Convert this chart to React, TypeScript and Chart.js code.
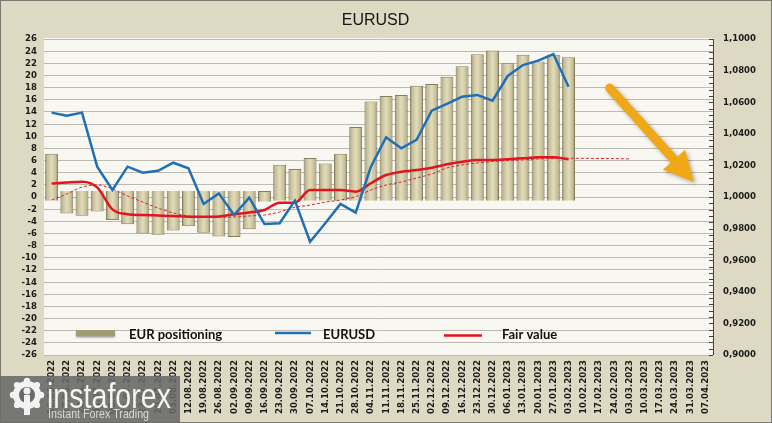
import React, { useEffect, useRef } from 'react';
import { Chart, registerables } from 'chart.js';

Chart.register(...registerables);

const categories = [
  '10.06.2022', '17.06.2022', '24.06.2022', '01.07.2022', '08.07.2022', '15.07.2022', '22.07.2022', '29.07.2022',
  '05.08.2022', '12.08.2022', '19.08.2022', '26.08.2022', '02.09.2022', '09.09.2022', '16.09.2022', '23.09.2022',
  '30.09.2022', '07.10.2022', '14.10.2022', '21.10.2022', '28.10.2022', '04.11.2022', '11.11.2022', '18.11.2022',
  '25.11.2022', '02.12.2022', '09.12.2022', '16.12.2022', '23.12.2022', '30.12.2022', '06.01.2023', '13.01.2023',
  '20.01.2023', '27.01.2023', '03.02.2023', '10.02.2023', '17.02.2023', '24.02.2023', '03.03.2023', '10.03.2023',
  '17.03.2023', '24.03.2023', '31.03.2023', '07.04.2023',
];

const eurPositioning = [
  7.1, -2.7, -3.1, -2.4, -3.8, -4.5, -6.0, -6.2, -5.5, -4.8, -5.9, -6.5, -6.6, -5.3, -0.8,
  5.3, 4.6, 6.4, 5.5, 7.1, 11.5, 15.7, 16.6, 16.8, 18.3, 18.6, 19.8, 21.5, 23.5, 24.1,
  22.0, 23.4, 22.3, 23.4, 23.0,
];

const eurusd = [
  1.0534, 1.0515, 1.0534, 1.0192, 1.0044, 1.0192, 1.0154, 1.0166, 1.0217, 1.0182, 0.9956, 1.0023,
  0.9886, 0.9996, 0.9829, 0.9834, 0.9977, 0.9717, 0.9834, 0.9956, 0.9901, 1.0192, 1.0378, 1.0308,
  1.0361, 1.0546, 1.0589, 1.0635, 1.0646, 1.0609, 1.0766, 1.0835, 1.0863, 1.0905, 1.0698,
];

const fairValue = [
  1.0085, 1.0092, 1.0097, 1.0061, 0.9922, 0.9891, 0.9886, 0.9883, 0.9880, 0.9875, 0.9875, 0.9877,
  0.9891, 0.9902, 0.9918, 0.9964, 0.9964, 1.0044, 1.0044, 1.0044, 1.0034, 1.0087, 1.0139, 1.0160,
  1.0171, 1.0185, 1.0207, 1.0223, 1.0234, 1.0234, 1.0239, 1.0245, 1.0251, 1.0251, 1.0239,
];

const fairTrend = [
  0.9981, 1.0019, 1.0063, 1.0076, 1.0051, 1.0006, 0.9968, 0.9930, 0.9899, 0.9880,
  0.9872, 0.9872, 0.9873, 0.9880, 0.9886, 0.9905, 0.9935, 0.9949, 0.9968, 0.9981,
  1.0002, 1.0044, 1.0076, 1.0095, 1.0120, 1.0146, 1.0184, 1.0203, 1.0215, 1.0225,
  1.0231, 1.0234, 1.0241, 1.0244, 1.0245, 1.0245, 1.0244, 1.0243, 1.0241,
];

const leftMin = -26;
const leftMax = 26;
const leftStep = 2;
const rightMin = 0.9;
const rightMax = 1.1;
const rightStep = 0.02;
const rightMinorStep = 0.004;

const legendLabels = ['EUR positioning', 'EURUSD', 'Fair value'];
const titleText = 'EURUSD';
const watermarkTitle = 'instaforex';
const watermarkSub = 'Instant Forex Trading';

const AXIS_FONT = '"DejaVu Sans Condensed", "DejaVu Sans", Verdana, sans-serif';
const BLUE = '#1f6fb6';
const RED = '#e3141b';

const pad = (a: any[], n: number) => a.concat(Array(Math.max(0, n - a.length)).fill(null));

const bgPlugin = {
  id: 'bgPlugin',
  beforeDraw(chart: any) {
    const { ctx, chartArea: a, width, height } = chart;
    ctx.save();
    ctx.fillStyle = '#ddd9c3';
    ctx.fillRect(0, 0, width, height);
    ctx.fillStyle = '#f8f7f2';
    ctx.fillRect(a.left, a.top - 1, a.right - a.left, a.bottom - a.top + 1);
    ctx.fillStyle = '#151515';
    ctx.font = '16px "Liberation Sans", Arial, sans-serif';
    ctx.textAlign = 'center';
    ctx.textBaseline = 'alphabetic';
    ctx.fillText(titleText, (a.left + a.right) / 2 - 3, 25);
    ctx.restore();
  },
  afterDraw(chart: any) {
    const { ctx, width, height } = chart;
    ctx.save();
    ctx.strokeStyle = '#7a7a70';
    ctx.lineWidth = 1;
    ctx.strokeRect(0.5, 0.5, width - 1, height - 1);
    ctx.restore();
  },
};

const minorTickPlugin = {
  id: 'minorTicks',
  afterDraw(chart: any) {
    const { ctx, chartArea: a } = chart;
    const s = chart.scales.y1;
    ctx.save();
    ctx.strokeStyle = '#5b3b2e';
    ctx.lineWidth = 1;
    const n = Math.round((rightMax - rightMin) / rightMinorStep);
    for (let k = 0; k <= n; k++) {
      const y = Math.round(s.getPixelForValue(rightMin + k * rightMinorStep)) + 0.5;
      ctx.beginPath();
      ctx.moveTo(a.right - 4, y);
      ctx.lineTo(a.right, y);
      ctx.stroke();
    }
    ctx.beginPath();
    ctx.moveTo(Math.round(a.right) + 0.5, a.top);
    ctx.lineTo(Math.round(a.right) + 0.5, a.bottom);
    ctx.stroke();
    ctx.restore();
  },
};

const arrowPlugin = {
  id: 'arrowPlugin',
  afterDatasetsDraw(chart: any) {
    const { ctx } = chart;
    const xs = chart.scales.x;
    const ys = chart.scales.y1;
    const x0 = xs.getPixelForValue(36.7);
    const y0 = ys.getPixelForValue(1.069);
    const x1 = xs.getPixelForValue(42.25);
    const y1 = ys.getPixelForValue(1.0095);
    const len = Math.hypot(x1 - x0, y1 - y0);
    const dx = (x1 - x0) / len;
    const dy = (y1 - y0) / len;
    const nx = -dy;
    const ny = dx;
    const headLen = 30;
    const headW = 15;
    ctx.save();
    ctx.shadowColor = 'rgba(0,0,0,0.3)';
    ctx.shadowBlur = 4;
    ctx.shadowOffsetX = 2;
    ctx.shadowOffsetY = 2;
    ctx.strokeStyle = '#f0a816';
    ctx.fillStyle = '#f0a816';
    ctx.lineWidth = 9;
    ctx.lineCap = 'round';
    ctx.beginPath();
    ctx.moveTo(x0, y0);
    ctx.lineTo(x1 - dx * headLen * 0.8, y1 - dy * headLen * 0.8);
    ctx.stroke();
    ctx.beginPath();
    ctx.moveTo(x1, y1);
    ctx.lineTo(x1 - dx * headLen + nx * headW, y1 - dy * headLen + ny * headW);
    ctx.lineTo(x1 - dx * headLen - nx * headW, y1 - dy * headLen - ny * headW);
    ctx.closePath();
    ctx.fill();
    ctx.restore();
  },
};

const legendPlugin = {
  id: 'customLegend',
  afterDatasetsDraw(chart: any) {
    const { ctx, chartArea: a } = chart;
    const y = chart.scales.y.getPixelForValue(-22.4);
    const L = a.left;
    ctx.save();
    ctx.shadowColor = 'rgba(0,0,0,0.35)';
    ctx.shadowBlur = 2;
    ctx.shadowOffsetY = 1.5;
    ctx.fillStyle = '#a29c70';
    ctx.fillRect(L + 32, y - 3, 39, 6);
    ctx.shadowColor = 'transparent';
    ctx.strokeStyle = BLUE;
    ctx.lineWidth = 2.5;
    ctx.beginPath();
    ctx.moveTo(L + 231, y);
    ctx.lineTo(L + 267, y);
    ctx.stroke();
    ctx.strokeStyle = RED;
    ctx.beginPath();
    ctx.moveTo(L + 400, y + 2.5);
    ctx.lineTo(L + 438, y + 2.5);
    ctx.stroke();
    ctx.fillStyle = '#111';
    ctx.font = 'bold 13px Lato, "Open Sans", sans-serif';
    ctx.textBaseline = 'middle';
    ctx.textAlign = 'left';
    ctx.fillText(legendLabels[0], L + 85, y + 2);
    ctx.fillText(legendLabels[1], L + 279, y + 2);
    ctx.fillText(legendLabels[2], L + 458, y + 2);
    ctx.restore();
  },
};

const watermarkPlugin = {
  id: 'watermark',
  afterDraw(chart: any) {
    const { ctx, height } = chart;
    ctx.save();
    ctx.fillStyle = 'rgba(105,105,105,0.88)';
    ctx.fillRect(0, height - 47, 180, 47);
    const cx = 27;
    const cy = height - 24;
    ctx.fillStyle = '#f2f2f2';
    for (let i = 0; i < 8; i++) {
      const ang = (i / 8) * Math.PI * 2;
      ctx.beginPath();
      ctx.arc(cx + Math.cos(ang) * 14, cy - 4 + Math.sin(ang) * 14, 3.2, 0, Math.PI * 2);
      ctx.fill();
    }
    ctx.beginPath();
    ctx.arc(cx, cy - 4, 14, 0, Math.PI * 2);
    ctx.fill();
    ctx.fillStyle = 'rgba(105,105,105,1)';
    ctx.beginPath();
    ctx.arc(cx, cy - 4, 8, 0, Math.PI * 2);
    ctx.fill();
    ctx.fillStyle = '#f2f2f2';
    ctx.beginPath();
    ctx.arc(cx, cy - 8, 3.5, 0, Math.PI * 2);
    ctx.fill();
    ctx.fillRect(cx - 3, cy - 4, 6, 20);
    ctx.fillStyle = '#f4f4f4';
    ctx.textBaseline = 'alphabetic';
    ctx.textAlign = 'left';
    ctx.font = '35px "Liberation Sans", Arial, sans-serif';
    let w = ctx.measureText(watermarkTitle).width;
    ctx.save();
    ctx.translate(47, height - 15);
    ctx.scale(124 / w, 1);
    ctx.fillText(watermarkTitle, 0, 0);
    ctx.restore();
    ctx.fillStyle = '#d8d8d8';
    ctx.font = '13px "Liberation Sans", Arial, sans-serif';
    w = ctx.measureText(watermarkSub).width;
    ctx.save();
    ctx.translate(48, height - 5);
    ctx.scale(101 / w, 1);
    ctx.fillText(watermarkSub, 0, 0);
    ctx.restore();
    ctx.restore();
  },
};

function barGradient(context: any) {
  const chart = context.chart;
  const xs = chart.scales?.x;
  const fallback = '#d4cca6';
  if (!xs || context.type !== 'data' || !chart.chartArea) return fallback;
  const x = xs.getPixelForValue(context.dataIndex);
  const half = (xs.width / categories.length) * 0.85 / 2;
  if (!Number.isFinite(x) || !Number.isFinite(half) || half <= 0) return fallback;
  const g = chart.ctx.createLinearGradient(x - half, 0, x + half, 0);
  g.addColorStop(0, '#8e8763');
  g.addColorStop(0.18, '#c7bf98');
  g.addColorStop(0.5, '#e2dcbc');
  g.addColorStop(0.82, '#c7bf98');
  g.addColorStop(1, '#8e8763');
  return g;
}

export default function App() {
  const ref = useRef<HTMLCanvasElement | null>(null);

  useEffect(() => {
    document.body.style.margin = '0';
    if (!ref.current) return;
    const n = categories.length;
    const barData = eurPositioning.map((v) => (v >= 0 ? [-0.6, v] : [1.0, v]));
    const chart = new Chart(ref.current, {
      type: 'bar',
      data: {
        labels: categories,
        datasets: [
          {
            type: 'line',
            label: legendLabels[1],
            data: pad(eurusd, n),
            yAxisID: 'y1',
            borderColor: BLUE,
            borderWidth: 2.5,
            pointRadius: 0,
            tension: 0,
            order: 0,
          } as any,
          {
            type: 'line',
            label: legendLabels[2],
            data: pad(fairValue, n),
            yAxisID: 'y1',
            borderColor: RED,
            borderWidth: 2.5,
            pointRadius: 0,
            cubicInterpolationMode: 'monotone',
            order: 1,
          } as any,
          {
            type: 'line',
            label: 'Fair value trend',
            data: pad(fairTrend, n),
            yAxisID: 'y1',
            borderColor: '#d4282a',
            borderWidth: 1,
            borderDash: [3, 2],
            pointRadius: 0,
            cubicInterpolationMode: 'monotone',
            order: 2,
          } as any,
          {
            type: 'bar',
            label: legendLabels[0],
            data: pad(barData, n),
            yAxisID: 'y',
            backgroundColor: barGradient,
            borderColor: '#878060',
            borderWidth: 1,
            barPercentage: 0.85,
            categoryPercentage: 1,
            order: 3,
          } as any,
        ],
      },
      options: {
        animation: false,
        responsive: true,
        maintainAspectRatio: false,
        layout: { padding: { top: 39, left: 0, right: 0, bottom: 0 } },
        plugins: {
          legend: { display: false },
          title: { display: false },
          tooltip: { enabled: false },
        },
        scales: {
          x: {
            offset: true,
            grid: { display: false, drawTicks: false },
            border: { display: false },
            ticks: {
              autoSkip: false,
              maxRotation: 90,
              minRotation: 90,
              padding: 5,
              color: '#1b1b1b',
              font: { family: AXIS_FONT, size: 9.5, weight: 'bold' },
            },
            afterFit(scale: any) {
              scale.height = 68;
            },
          },
          y: {
            position: 'left',
            min: leftMin,
            max: leftMax,
            grid: { color: '#bcbab1', lineWidth: 1, drawTicks: false },
            border: { display: false },
            ticks: {
              stepSize: leftStep,
              autoSkip: false,
              padding: 7,
              color: '#1b1b1b',
              font: { family: AXIS_FONT, size: 9.5, weight: 'bold' },
            },
            afterFit(scale: any) {
              scale.width = 44;
            },
          },
          y1: {
            position: 'right',
            min: rightMin,
            max: rightMax,
            grid: { display: false, drawOnChartArea: false, drawTicks: false },
            border: { display: false },
            ticks: {
              stepSize: rightStep,
              autoSkip: false,
              padding: 10,
              color: '#1b1b1b',
              font: { family: AXIS_FONT, size: 9.5, weight: 'bold' },
              callback: (v: any) => Number(v).toFixed(4).replace('.', ','),
            },
            afterFit(scale: any) {
              scale.width = 59;
            },
          },
        },
      },
      plugins: [bgPlugin, minorTickPlugin, arrowPlugin, legendPlugin, watermarkPlugin],
    });
    return () => chart.destroy();
  }, []);

  return (
    <div style={{ position: 'relative', width: 772, height: 423 }}>
      <canvas ref={ref} />
    </div>
  );
}
